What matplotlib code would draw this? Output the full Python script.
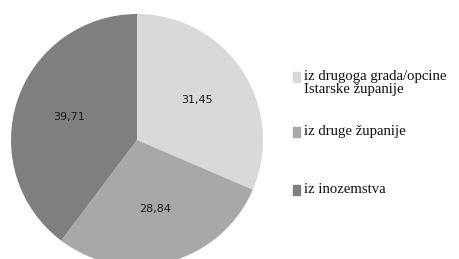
import matplotlib.pyplot as plt
from matplotlib.patches import Rectangle

# Share of visitors by origin (%)
categories = ['iz drugoga grada/opcine\nIstarske županije', 'iz druge županije', 'iz inozemstva']
values = [31.45, 28.84, 39.71]
colors = ['#d9d9db', '#a7a8aa', '#7f7f81']

fig = plt.figure(figsize=(4.6, 2.59), dpi=100)
ax = fig.add_axes([0, 0, 1, 1])

# pixel-like data coords so the pie sits where it does in the original
wedges, texts, autotexts = ax.pie(
    values, colors=colors, startangle=90, counterclock=False,
    center=(137, 119), radius=126,
    autopct=lambda p: f'{p:.2f}'.replace('.', ','), pctdistance=0.57,
    textprops={'fontsize': 8, 'color': '#1a1a1a', 'family': 'DejaVu Sans'},
    frame=True,
)
ax.set_xlim(0, 460)
ax.set_ylim(0, 259)
ax.set_aspect('equal')
ax.axis('off')

# legend drawn by hand: square aligned with the first text line
legend_y = [0.705, 0.49, 0.268]
for label, color, y in zip(categories, colors, legend_y):
    fig.add_artist(Rectangle((293 / 460, y - 0.02), 7 / 460, 0.038,
                             transform=fig.transFigure, color=color))
    fig.text(304 / 460, y + 0.026, label, fontsize=10.6, family='Liberation Serif',
             color='#111111', va='top', ha='left', linespacing=1.05)

fig.savefig('out.png', dpi=100)
